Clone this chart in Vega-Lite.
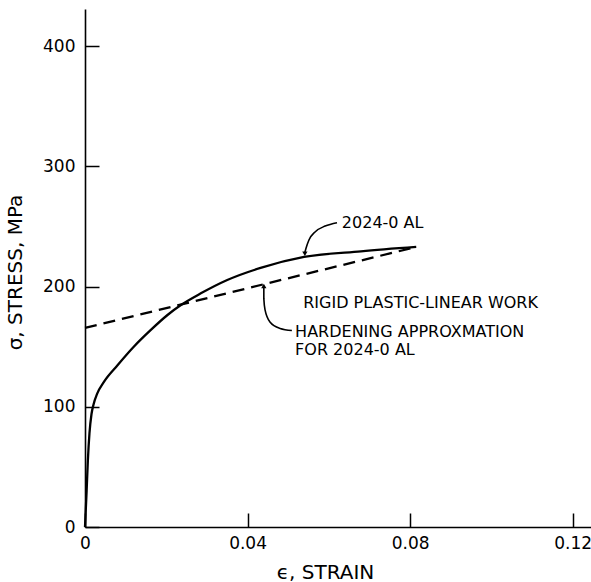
{
  "$schema": "https://vega.github.io/schema/vega-lite/v6.json",
  "width": 506,
  "height": 518,
  "autosize": "none",
  "padding": {"left": 85, "top": 9, "right": 0, "bottom": 55},
  "background": "white",
  "config": {
    "view": {"stroke": null},
    "font": "DejaVu Sans",
    "axis": {
      "grid": false,
      "domainColor": "black",
      "domainWidth": 1.6,
      "tickColor": "black",
      "tickWidth": 1.5,
      "tickSize": -14,
      "labelColor": "black",
      "labelFont": "DejaVu Sans",
      "labelFontSize": 17,
      "labelFlush": false,
      "titleColor": "black",
      "titleFont": "DejaVu Sans",
      "titleFontSize": 20,
      "titleFontWeight": "normal"
    }
  },
  "datasets": {
    "curve": [
      {"strain": 0, "stress": 0},
      {"strain": 0.0004, "stress": 30},
      {"strain": 0.0007, "stress": 55},
      {"strain": 0.0011, "stress": 78},
      {"strain": 0.0016, "stress": 94},
      {"strain": 0.0021, "stress": 102},
      {"strain": 0.003, "stress": 111},
      {"strain": 0.0047, "stress": 121},
      {"strain": 0.008, "stress": 134.6},
      {"strain": 0.012, "stress": 150},
      {"strain": 0.0162, "stress": 164},
      {"strain": 0.0203, "stress": 176.4},
      {"strain": 0.0236, "stress": 184.7},
      {"strain": 0.0285, "stress": 194.4},
      {"strain": 0.035, "stress": 205.5},
      {"strain": 0.0432, "stress": 215.6},
      {"strain": 0.0539, "stress": 224.7},
      {"strain": 0.0679, "stress": 229.4},
      {"strain": 0.0815, "stress": 233}
    ],
    "approx": [
      {"strain": 0, "stress": 165.6},
      {"strain": 0.0815, "stress": 233}
    ],
    "leaders": [
      {"id": "a", "ord": 1, "strain": 0.0620, "stress": 253.2},
      {"id": "a", "ord": 2, "strain": 0.0591, "stress": 250.4},
      {"id": "a", "ord": 3, "strain": 0.0566, "stress": 245.5},
      {"id": "a", "ord": 4, "strain": 0.0551, "stress": 238.8},
      {"id": "a", "ord": 5, "strain": 0.0544, "stress": 232.1},
      {"id": "a", "ord": 6, "strain": 0.0541, "stress": 228.5},
      {"id": "b", "ord": 1, "strain": 0.0440, "stress": 199},
      {"id": "b", "ord": 2, "strain": 0.0440, "stress": 190},
      {"id": "b", "ord": 3, "strain": 0.0443, "stress": 180.6},
      {"id": "b", "ord": 4, "strain": 0.0455, "stress": 170.6},
      {"id": "b", "ord": 5, "strain": 0.0480, "stress": 165.2},
      {"id": "b", "ord": 6, "strain": 0.0509, "stress": 163.5}
    ],
    "heads": [
      {"strain": 0.0541, "stress": 227.3, "shape": "triangle-down"},
      {"strain": 0.0440, "stress": 200.5, "shape": "triangle-up"}
    ],
    "labels": [
      {"strain": 0.0632, "stress": 252.9, "text": "2024-0 AL"},
      {"strain": 0.0537, "stress": 186.1, "text": "RIGID PLASTIC-LINEAR WORK"},
      {"strain": 0.0517, "stress": 162.5, "text": "HARDENING APPROXMATION"},
      {"strain": 0.0517, "stress": 147.3, "text": "FOR 2024-0 AL"}
    ]
  },
  "layer": [
    {
      "data": {"name": "curve"},
      "mark": {"type": "line", "color": "black", "strokeWidth": 2.3, "interpolate": "monotone"},
      "encoding": {
        "x": {
          "field": "strain", "type": "quantitative",
          "scale": {"domain": [0, 0.1245], "nice": false, "zero": false},
          "axis": {
            "values": [0, 0.04, 0.08, 0.12],
            "format": ".2~f",
            "labelPadding": 22,
            "title": "ϵ, STRAIN",
            "titleX": 240,
            "titleY": 45,
            "titleBaseline": "middle"
          }
        },
        "y": {
          "field": "stress", "type": "quantitative",
          "scale": {"domain": [0, 431], "nice": false},
          "axis": {
            "values": [0, 100, 200, 300, 400],
            "labelPadding": 24,
            "title": "σ, STRESS, MPa",
            "titleX": -70,
            "titleY": 263,
            "titleBaseline": "middle"
          }
        }
      }
    },
    {
      "data": {"name": "approx"},
      "mark": {"type": "line", "color": "black", "strokeWidth": 2.3, "strokeDash": [12, 7]},
      "encoding": {
        "x": {"field": "strain", "type": "quantitative"},
        "y": {"field": "stress", "type": "quantitative"}
      }
    },
    {
      "data": {"name": "leaders"},
      "mark": {"type": "line", "color": "black", "strokeWidth": 1.6, "interpolate": "monotone"},
      "encoding": {
        "x": {"field": "strain", "type": "quantitative"},
        "y": {"field": "stress", "type": "quantitative"},
        "detail": {"field": "id"},
        "order": {"field": "ord"}
      }
    },
    {
      "data": {"name": "heads"},
      "mark": {"type": "point", "filled": true, "color": "black", "size": 28, "opacity": 1},
      "encoding": {
        "x": {"field": "strain", "type": "quantitative"},
        "y": {"field": "stress", "type": "quantitative"},
        "shape": {"field": "shape", "type": "nominal", "scale": null}
      }
    },
    {
      "data": {"name": "labels"},
      "mark": {"type": "text", "align": "left", "baseline": "middle", "font": "DejaVu Sans", "fontSize": 16, "color": "black"},
      "encoding": {
        "x": {"field": "strain", "type": "quantitative"},
        "y": {"field": "stress", "type": "quantitative"},
        "text": {"field": "text"}
      }
    }
  ]
}
